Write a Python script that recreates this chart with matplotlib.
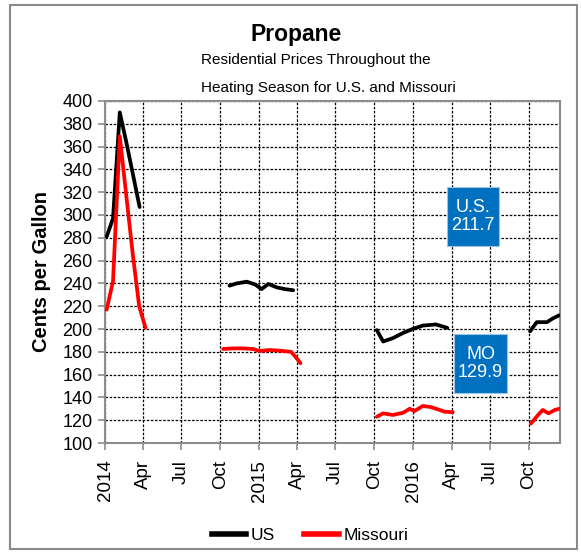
import matplotlib
matplotlib.use("Agg")
import matplotlib.pyplot as plt
from matplotlib import font_manager as fm
from matplotlib.patches import Rectangle
from matplotlib.lines import Line2D
import pandas as pd

# ---------------- data (cents per gallon) ----------------
us_dates_2014 = ["2014-01-05", "2014-01-20", "2014-02-05", "2014-02-21", "2014-03-08", "2014-03-24"]
us_vals_2014 = [281, 297, 390, 363, 336, 307]
mo_dates_2014 = ["2014-01-05", "2014-01-20", "2014-02-05", "2014-02-21", "2014-03-08", "2014-03-23", "2014-04-07"]
mo_vals_2014 = [217, 242, 369, 315, 265, 220, 201]

us_dates_2015 = ["2014-10-23", "2014-11-09", "2014-12-03", "2014-12-23", "2015-01-07",
                 "2015-01-23", "2015-02-12", "2015-03-03", "2015-03-23"]
us_vals_2015 = [238, 240, 241.5, 239, 235, 239.5, 236.5, 235, 234]
mo_dates_2015 = ["2014-10-08", "2014-10-31", "2014-11-24", "2014-12-17", "2015-01-02",
                 "2015-01-26", "2015-02-18", "2015-03-18", "2015-04-03", "2015-04-09"]
mo_vals_2015 = [182.5, 183, 183, 182.5, 180.7, 181.6, 181, 180, 173, 170]

us_dates_2016 = ["2015-10-07", "2015-10-22", "2015-11-14", "2015-12-08", "2015-12-31",
                 "2016-01-24", "2016-02-24", "2016-03-22"]
us_vals_2016 = [199, 189, 192, 196.5, 200, 203, 204, 201]
mo_dates_2016 = ["2015-10-07", "2015-10-22", "2015-11-14", "2015-12-08", "2015-12-24", "2016-01-04",
                 "2016-01-24", "2016-02-12", "2016-02-28", "2016-03-15", "2016-04-04"]
mo_vals_2016 = [123, 126, 124.6, 126.5, 130, 128, 132.5, 131.5, 129.6, 127.5, 127]

us_dates_2017 = ["2016-10-04", "2016-10-20", "2016-11-13", "2016-11-28", "2016-12-12"]
us_vals_2017 = [198, 206, 206, 209.5, 212]
mo_dates_2017 = ["2016-10-06", "2016-10-24", "2016-11-03", "2016-11-17", "2016-12-02", "2016-12-12"]
mo_vals_2017 = [117, 125, 129, 126, 129, 130]

tick_dates = ["2014-01-01", "2014-04-01", "2014-07-01", "2014-10-01",
              "2015-01-01", "2015-04-01", "2015-07-01", "2015-10-01",
              "2016-01-01", "2016-04-01", "2016-07-01", "2016-10-01"]
tick_labels = ["2014", "Apr", "Jul", "Oct", "2015", "Apr", "Jul", "Oct", "2016", "Apr", "Jul", "Oct"]
y_ticks = list(range(100, 401, 20))

us_label_text = "U.S.\n211.7"
mo_label_text = "MO\n129.9"

# ---------------- fonts ----------------
names = {f.name for f in fm.fontManager.ttflist}
NARROW = "Liberation Sans Narrow" if "Liberation Sans Narrow" in names else "Liberation Sans"
SCALE = 1.18 if NARROW == "Liberation Sans Narrow" else 1.0   # narrow fonts need a larger size
REG = "Liberation Sans"

W, H = 581, 552
fig = plt.figure(figsize=(W / 100, H / 100), dpi=100)

def fx(px):
    return px / W

def fy(py):
    return 1 - py / H

# outer border
fig.patches.append(Rectangle((fx(10), fy(549)), fx(577) - fx(10), fy(5) - fy(549),
                             transform=fig.transFigure, fill=False,
                             edgecolor="#8a8a8a", linewidth=1.5))

ax = fig.add_axes([fx(105), fy(443), fx(560) - fx(105), fy(101) - fy(443)])

US_C = "black"
MO_C = "#ff0000"
LW = 2.7
for d, v in [(us_dates_2014, us_vals_2014), (us_dates_2015, us_vals_2015),
             (us_dates_2016, us_vals_2016), (us_dates_2017, us_vals_2017)]:
    ax.plot(pd.to_datetime(d), v, color=US_C, lw=LW, solid_joinstyle="round", solid_capstyle="round", zorder=3)
for d, v in [(mo_dates_2014, mo_vals_2014), (mo_dates_2015, mo_vals_2015),
             (mo_dates_2016, mo_vals_2016), (mo_dates_2017, mo_vals_2017)]:
    ax.plot(pd.to_datetime(d), v, color=MO_C, lw=LW, solid_joinstyle="round", solid_capstyle="round", zorder=3)

ax.set_xlim(pd.Timestamp("2014-01-01"), pd.Timestamp("2016-12-14"))
ax.set_ylim(100, 400)
ax.set_yticks(y_ticks)
ax.set_yticklabels([str(t) for t in y_ticks], fontfamily=REG, fontsize=13)
ax.set_xticks(pd.to_datetime(tick_dates))
ax.set_xticklabels(tick_labels, rotation=90, fontfamily=REG, fontsize=13.5)

ax.grid(True, color="black", linestyle=(0, (2, 1.3)), linewidth=0.9)
ax.set_axisbelow(True)
for s in ax.spines.values():
    s.set_color("#8c8c8c")
    s.set_linewidth(1.5)
ax.tick_params(axis="both", direction="out", length=5, width=1.2, color="#8c8c8c", labelcolor="black")
ax.tick_params(axis="y", pad=4)
ax.tick_params(axis="x", pad=7)

# y label
fig.text(fx(42), fy(271), "Cents per Gallon", rotation=90, ha="center", va="center",
         fontfamily=REG, fontweight="bold", fontsize=14.5)

# titles
fig.text(fx(296), fy(35), "Propane", ha="center", va="center",
         fontfamily=NARROW, fontweight="bold", fontsize=16.5 * SCALE)
fig.text(fx(201), fy(60), "Residential Prices Throughout the", ha="left", va="center",
         fontfamily=NARROW, fontsize=11 * SCALE)
fig.text(fx(201), fy(88), "Heating Season for U.S. and Missouri", ha="left", va="center",
         fontfamily=NARROW, fontsize=11 * SCALE)

# value boxes
def value_box(x0, y0, x1, y1, text):
    fig.patches.append(Rectangle((fx(x0), fy(y1)), fx(x1) - fx(x0), fy(y0) - fy(y1),
                                 transform=fig.transFigure, facecolor="#0070c0",
                                 edgecolor="#9dc3e6", linewidth=0.8, zorder=5))
    fig.text(fx((x0 + x1) / 2), fy((y0 + y1) / 2), text, ha="center", va="center",
             color="white", fontfamily=NARROW, fontsize=13 * SCALE, linespacing=1.15, zorder=6)

value_box(447, 187, 499, 246, us_label_text)
value_box(454, 334, 507, 393, mo_label_text)

# legend
handles = [Line2D([], [], color=US_C, lw=4), Line2D([], [], color=MO_C, lw=4)]
fig.legend(handles, ["US", "Missouri"], loc="center", bbox_to_anchor=(fx(310), fy(535)),
           ncol=2, frameon=False, handlelength=2.0, handletextpad=0.25, columnspacing=1.7,
           prop={"family": NARROW, "size": 12.5 * SCALE})

fig.savefig("out.png", dpi=100)
